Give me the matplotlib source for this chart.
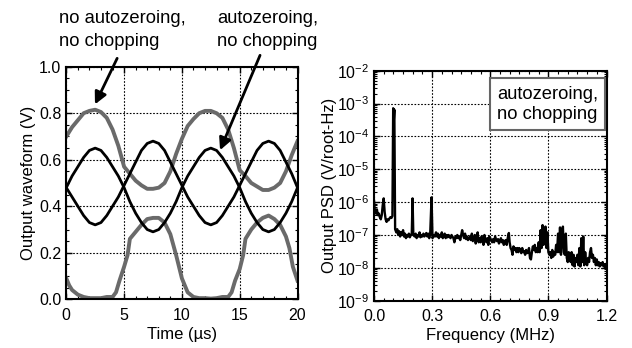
import numpy as np
import matplotlib
matplotlib.use("Agg")
import matplotlib.pyplot as plt
from matplotlib.ticker import LogLocator, MultipleLocator, NullFormatter

plt.rcParams["font.family"] = ["Liberation Sans", "DejaVu Sans"]

# --- left panel: output waveforms (V) vs time (us) ---
t_black = [0, 0.5, 1, 1.5, 2, 2.5, 3, 3.5, 4, 4.5, 5, 5.5, 6, 6.5, 7, 7.5, 8, 8.5, 9, 9.5,
           10, 10.5, 11, 11.5, 12, 12.5, 13, 13.5, 14, 14.5, 15, 15.5, 16, 16.5, 17, 17.5,
           18, 18.5, 19, 19.5, 20]
az_a = [0.48, 0.53, 0.57, 0.61, 0.64, 0.65, 0.64, 0.61, 0.57, 0.53, 0.48, 0.42, 0.37, 0.33,
        0.30, 0.29, 0.30, 0.33, 0.37, 0.42, 0.48, 0.53, 0.57, 0.61, 0.64, 0.65, 0.64, 0.61,
        0.57, 0.53, 0.48, 0.42, 0.37, 0.33, 0.30, 0.29, 0.30, 0.33, 0.37, 0.42, 0.48]
az_b = [0.48, 0.44, 0.40, 0.36, 0.33, 0.32, 0.33, 0.36, 0.40, 0.44, 0.49, 0.54, 0.59, 0.64,
        0.67, 0.68, 0.67, 0.64, 0.59, 0.54, 0.49, 0.44, 0.40, 0.36, 0.33, 0.32, 0.33, 0.36,
        0.40, 0.44, 0.49, 0.54, 0.59, 0.64, 0.67, 0.68, 0.67, 0.64, 0.59, 0.54, 0.48]

t_up = [0, 0.5, 1, 1.5, 2, 2.5, 3, 3.5, 4, 4.5, 5, 5.5, 6, 6.5, 7, 7.5, 8, 8.5, 9, 9.5,
        10, 10.5, 11, 11.5, 12, 12.5, 13, 13.5, 14, 14.5, 15, 15.5, 16, 16.5, 17, 17.5,
        18, 18.5, 19, 19.5, 20]
noaz_up = [0.70, 0.74, 0.77, 0.80, 0.81, 0.815, 0.805, 0.78, 0.73, 0.66, 0.57, 0.54, 0.51,
           0.49, 0.475, 0.475, 0.48, 0.50, 0.55, 0.625, 0.69, 0.745, 0.775, 0.80, 0.81,
           0.81, 0.80, 0.78, 0.73, 0.65, 0.555, 0.53, 0.50, 0.485, 0.47, 0.47, 0.48, 0.50,
           0.55, 0.62, 0.68]

t_lo = [0, 0.25, 0.5, 1, 1.5, 2, 2.5, 3, 3.5, 4, 4.3, 4.6, 5, 5.3, 5.5, 6, 6.5, 7, 7.5, 8,
        8.5, 9, 9.5, 10, 10.5, 11, 11.5, 12, 12.5, 13, 13.5, 14, 14.3, 14.6, 15, 15.3, 15.5,
        16, 16.5, 17, 17.5, 18, 18.5, 19, 19.3, 19.6, 20]
noaz_lo = [0.09, 0.06, 0.04, 0.02, 0.01, 0.005, 0.005, 0.005, 0.01, 0.01, 0.03, 0.08, 0.14,
           0.19, 0.26, 0.29, 0.32, 0.345, 0.35, 0.35, 0.33, 0.28, 0.19, 0.09, 0.03, 0.01,
           0.005, 0.005, 0.003, 0.005, 0.01, 0.01, 0.03, 0.08, 0.13, 0.19, 0.26, 0.30, 0.33,
           0.35, 0.36, 0.345, 0.32, 0.27, 0.22, 0.14, 0.08]

# --- right panel: output PSD (V/root-Hz) vs frequency (MHz) ---
psd_f = [0.000, 0.005, 0.010, 0.015, 0.020, 0.025, 0.030, 0.035, 0.040, 0.045, 0.050, 0.055,
         0.060, 0.065, 0.070, 0.075, 0.080, 0.085, 0.090, 0.095, 0.099, 0.102, 0.105, 0.109,
         0.115, 0.120, 0.125, 0.130, 0.135, 0.140, 0.145, 0.150, 0.155, 0.160, 0.165, 0.170,
         0.175, 0.180, 0.185, 0.190, 0.195, 0.199, 0.203, 0.210, 0.215, 0.220, 0.225, 0.230,
         0.235, 0.240, 0.245, 0.250, 0.255, 0.260, 0.265, 0.270, 0.275, 0.280, 0.285, 0.290,
         0.297, 0.302, 0.310, 0.315, 0.320, 0.325, 0.330, 0.335, 0.340, 0.345, 0.350, 0.355,
         0.360, 0.365, 0.370, 0.375, 0.380, 0.385, 0.390, 0.395, 0.400, 0.405, 0.410, 0.415,
         0.420, 0.425, 0.430, 0.435, 0.440, 0.445, 0.450, 0.455, 0.460, 0.465, 0.470, 0.475,
         0.480, 0.485, 0.490, 0.495, 0.500, 0.505, 0.510, 0.515, 0.520, 0.525, 0.530, 0.535,
         0.540, 0.545, 0.550, 0.555, 0.560, 0.565, 0.570, 0.575, 0.580, 0.585, 0.590, 0.595,
         0.600, 0.605, 0.610, 0.615, 0.620, 0.625, 0.630, 0.635, 0.640, 0.645, 0.650, 0.655,
         0.660, 0.665, 0.670, 0.675, 0.680, 0.685, 0.690, 0.696, 0.700, 0.705, 0.710, 0.715,
         0.720, 0.725, 0.730, 0.735, 0.740, 0.745, 0.750, 0.755, 0.760, 0.765, 0.770, 0.775,
         0.780, 0.785, 0.790, 0.795, 0.800, 0.805, 0.810, 0.815, 0.820, 0.825, 0.830, 0.835,
         0.840, 0.845, 0.850, 0.855, 0.860, 0.865, 0.870, 0.875, 0.880, 0.885, 0.890, 0.895,
         0.900, 0.905, 0.910, 0.915, 0.920, 0.925, 0.930, 0.935, 0.940, 0.945, 0.950, 0.955,
         0.960, 0.965, 0.970, 0.975, 0.980, 0.985, 0.990, 0.995, 1.000, 1.005, 1.010, 1.015,
         1.020, 1.025, 1.030, 1.035, 1.040, 1.045, 1.050, 1.055, 1.060, 1.065, 1.070, 1.075,
         1.080, 1.085, 1.090, 1.095, 1.100, 1.105, 1.110, 1.115, 1.120, 1.125, 1.130, 1.135,
         1.140, 1.145, 1.150, 1.155, 1.160, 1.165, 1.170, 1.175, 1.180, 1.185, 1.190, 1.195,
         1.200]
psd_v = [1.1e-6, 5e-7, 4.5e-7, 6e-7, 4e-7, 4.5e-7, 3.5e-7, 3e-7, 4e-7, 8e-7, 1.3e-6, 5e-7,
         3e-7, 2.5e-7, 3e-7, 2.8e-7, 3.2e-7, 3.5e-7, 3.3e-7, 3.8e-7, 7.2e-4, 3e-4, 6.5e-4, 1.5e-7,
         1.2e-7, 1.5e-7, 1e-7, 1.3e-7, 9e-8, 1.2e-7, 1e-7, 1.4e-7, 9e-8, 1.1e-7, 8e-8, 1e-7,
         9e-8, 1.1e-7, 8.5e-8, 1e-7, 1.1e-7, 1.3e-6, 1e-7, 9e-8, 1.1e-7, 8e-8, 1e-7, 9e-8,
         1.2e-7, 8.5e-8, 1e-7, 9e-8, 1.1e-7, 9e-8, 1e-7, 1.15e-7, 9e-8, 1.1e-7, 8e-8, 1.05e-7,
         1.4e-6, 8e-8, 1e-7, 9e-8, 1.2e-7, 9e-8, 1.1e-7, 8e-8, 1e-7, 9e-8, 1.2e-7, 8e-8,
         9.5e-8, 1.1e-7, 8e-8, 1e-7, 8.5e-8, 1e-7, 9e-8, 8e-8, 1e-7, 9e-8, 8e-8, 6e-8,
         9e-8, 8e-8, 1e-7, 8e-8, 9e-8, 7e-8, 1e-7, 1.4e-7, 1e-7, 8e-8, 1.1e-7, 7.5e-8,
         9e-8, 7e-8, 8e-8, 9e-8, 7e-8, 1.1e-7, 6.5e-8, 8e-8, 1e-7, 5.5e-8, 9e-8, 1.2e-7,
         6e-8, 8e-8, 6e-8, 9e-8, 7e-8, 5e-8, 1e-7, 7e-8, 6e-8, 8e-8, 5e-8, 9e-8,
         8e-8, 7e-8, 6e-8, 7.5e-8, 6e-8, 9e-8, 7e-8, 6.5e-8, 7.5e-8, 5.5e-8, 6.5e-8, 8e-8,
         6e-8, 7e-8, 5e-8, 6.5e-8, 7e-8, 5e-8, 8e-8, 1.15e-7, 6e-8, 4e-8, 3.5e-8, 2.5e-8,
         4.5e-8, 3.5e-8, 4e-8, 3e-8, 4e-8, 3e-8, 4e-8, 3.5e-8, 2.8e-8, 4e-8, 3e-8, 3.2e-8,
         2.5e-8, 3.5e-8, 2.8e-8, 3e-8, 4e-8, 2e-8, 1.8e-8, 3e-8, 4.5e-8, 3.5e-8, 5e-8, 3e-8,
         4e-8, 3e-8, 6e-8, 3e-8, 1.4e-7, 4e-8, 2e-7, 5e-8, 8e-8, 1.8e-7, 4e-8, 1.2e-7,
         3e-8, 2.5e-8, 3e-8, 2e-8, 3.5e-8, 2.2e-8, 3e-8, 2.5e-8, 5e-8, 3e-8, 1.1e-7, 3e-8,
         1.7e-7, 2.5e-8, 8e-8, 1.8e-7, 3e-8, 2.5e-8, 1.1e-7, 2e-8, 1.5e-8, 3e-8, 2e-8, 1.5e-8,
         3e-8, 1.2e-8, 2.5e-8, 1.1e-8, 2e-8, 1.5e-8, 2.5e-8, 1.2e-8, 4e-8, 1.1e-8, 8e-8, 1.5e-8,
         9e-8, 1.2e-8, 3e-8, 1.5e-8, 1.2e-8, 2e-8, 1.5e-8, 3e-8, 4e-8, 2e-8, 2.5e-8, 1.5e-8,
         2e-8, 1.2e-8, 1.8e-8, 1.2e-8, 1.5e-8, 1.1e-8, 1.4e-8, 1.2e-8, 1.5e-8, 1.1e-8, 1.3e-8, 1e-8,
         1.3e-8]

W, H = 632, 348
fig = plt.figure(figsize=(W / 100, H / 100), dpi=100)
ax1 = fig.add_axes([66.3 / W, 1 - 299.3 / H, (297.5 - 66.3) / W, (299.3 - 66.7) / H])
ax2 = fig.add_axes([374 / W, 1 - 300.7 / H, (606.5 - 374) / W, (300.7 - 70.7) / H])

gray = "#6a6a6a"
ax1.plot(t_up, noaz_up, color=gray, lw=2.8, zorder=2)
ax1.plot(t_lo, noaz_lo, color=gray, lw=2.8, zorder=2)
ax1.plot(t_black, az_a, color="black", lw=2, zorder=3)
ax1.plot(t_black, az_b, color="black", lw=2, zorder=3)
ax1.set_xlim(0, 20)
ax1.set_ylim(0, 1.0)
ax1.xaxis.set_major_locator(MultipleLocator(5))
ax1.xaxis.set_minor_locator(MultipleLocator(1))
ax1.yaxis.set_major_locator(MultipleLocator(0.2))
ax1.yaxis.set_minor_locator(MultipleLocator(0.05))
ax1.yaxis.set_major_formatter(plt.FuncFormatter(lambda v, p: f"{v:.1f}"))
ax1.set_xlabel("Time (\u00b5s)", fontsize=12, labelpad=3)
ax1.set_ylabel("Output waveform (V)", fontsize=12, labelpad=2)

ax2.semilogy(psd_f, psd_v, color="black", lw=1.7, zorder=3)
ax2.set_xlim(0, 1.2)
ax2.set_ylim(1e-9, 1e-2)
ax2.xaxis.set_major_locator(MultipleLocator(0.3))
ax2.xaxis.set_minor_locator(MultipleLocator(0.05))
ax2.xaxis.set_major_formatter(plt.FuncFormatter(lambda v, p: f"{v:.1f}"))
ax2.yaxis.set_major_locator(LogLocator(base=10, numticks=12))
ax2.yaxis.set_minor_locator(LogLocator(base=10, subs=np.arange(2, 10), numticks=12))
ax2.yaxis.set_minor_formatter(NullFormatter())
ax2.set_xlabel("Frequency (MHz)", fontsize=12, labelpad=3)
ax2.set_ylabel("Output PSD (V/root-Hz)", fontsize=12, labelpad=0)

for ax in (ax1, ax2):
    ax.grid(True, which="major", color="black", ls=(0, (1.5, 1.5)), lw=0.8)
    ax.tick_params(which="both", direction="in", top=True, right=True, labelsize=11.5)
    ax.tick_params(axis="x", which="major", pad=6)
    ax.tick_params(which="major", length=4, width=1)
    ax.tick_params(which="minor", length=2.5, width=0.8)
    for s in ax.spines.values():
        s.set_linewidth(1.5)

ax2.text(0.529, 0.935, "autozeroing,\nno chopping", transform=ax2.transAxes,
         ha="left", va="top", fontsize=13.2, linespacing=1.25,
         bbox=dict(boxstyle="square,pad=0.4", fc="white", ec="#666666", lw=1.5))

fig.text(59 / W, 1 - 10 / H, "no autozeroing,\nno chopping", ha="left", va="top",
         fontsize=13.2, linespacing=1.45)
fig.text(217 / W, 1 - 10 / H, "autozeroing,\nno chopping", ha="left", va="top",
         fontsize=13.2, linespacing=1.45)

arrow = dict(arrowstyle="-|>", lw=2, color="black", mutation_scale=18,
             shrinkA=0, shrinkB=0)
ax1.annotate("", xy=(2.48, 0.838), xytext=(4.4, 1.036), arrowprops=arrow,
             annotation_clip=False)
ax1.annotate("", xy=(13.3, 0.641), xytext=(16.76, 1.049), arrowprops=arrow,
             annotation_clip=False)

fig.savefig("out.png", dpi=100)
